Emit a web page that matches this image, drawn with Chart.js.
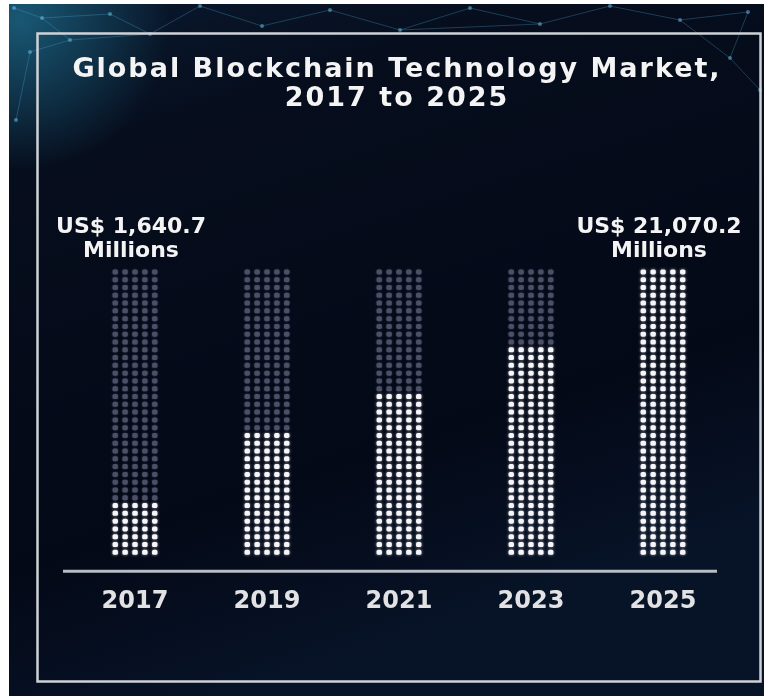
<!DOCTYPE html>
<html>
<head>
<meta charset="utf-8">
<title>Global Blockchain Technology Market</title>
<script src="https://cdn.jsdelivr.net/npm/chart.js@4.4.1/dist/chart.umd.min.js"></script>
<style>
  html, body { margin: 0; padding: 0; background: #fff; }
  #chart { display: block; }
</style>
</head>
<body>
<canvas id="chart" width="764" height="696"></canvas>
<script>
// Global blockchain technology market size, US$ millions
const years = ['2017', '2019', '2021', '2023', '2025'];
const marketSize = [1640.7, 3500, 5400, 9000, 21070.2];
const calloutYears = ['2017', '2025'];
const titleLines = ['Global Blockchain Technology Market,', '2017 to 2025'];

const DOT_ROWS = 37;
const DOT_COLS = 5;
const DOT_W = 5.4;
const DOT_H = 5;

const fmtMillions = v => 'US$ ' + v.toLocaleString('en-US', { minimumFractionDigits: 1, maximumFractionDigits: 1 });

// faint network pattern along the top of the backdrop
const netNodes = [[14, 8], [42, 18], [70, 40], [30, 52], [110, 14], [150, 34], [200, 6], [262, 26],
  [330, 10], [400, 30], [470, 8], [540, 24], [610, 6], [680, 20], [748, 12], [730, 58], [760, 90], [16, 120]];
const netEdges = [[0, 1], [1, 2], [2, 3], [1, 4], [4, 5], [5, 6], [6, 7], [7, 8], [8, 9], [9, 10],
  [10, 11], [11, 12], [12, 13], [13, 14], [14, 15], [15, 16], [3, 17], [2, 5], [9, 11], [13, 15]];

const backdrop = {
  id: 'backdrop',
  beforeDraw(chart) {
    const { ctx, width: w, height: h } = chart;
    ctx.save();
    ctx.fillStyle = '#ffffff';
    ctx.fillRect(0, 0, w, h);

    const bg = ctx.createLinearGradient(0, 0, w * 0.3, h);
    bg.addColorStop(0, '#0a1a30');
    bg.addColorStop(0.25, '#060d1c');
    bg.addColorStop(0.75, '#040917');
    bg.addColorStop(1, '#071327');
    ctx.fillStyle = bg;
    ctx.fillRect(9, 4, w - 9, h - 4);

    const glow = ctx.createRadialGradient(20, 20, 0, 20, 20, 150);
    glow.addColorStop(0, 'rgba(40,150,185,0.5)');
    glow.addColorStop(1, 'rgba(40,150,185,0)');
    ctx.fillStyle = glow;
    ctx.fillRect(9, 4, 200, 180);

    ctx.strokeStyle = 'rgba(80,170,220,0.3)';
    ctx.lineWidth = 1;
    netEdges.forEach(([a, b]) => {
      ctx.beginPath();
      ctx.moveTo(netNodes[a][0], netNodes[a][1]);
      ctx.lineTo(netNodes[b][0], netNodes[b][1]);
      ctx.stroke();
    });
    ctx.fillStyle = 'rgba(110,200,240,0.5)';
    netNodes.forEach(([x, y]) => {
      ctx.beginPath();
      ctx.arc(x, y, 2, 0, Math.PI * 2);
      ctx.fill();
    });

    // frame
    ctx.strokeStyle = '#cfd2d8';
    ctx.lineWidth = 2.5;
    ctx.strokeRect(37.5, 33.5, 723, 648);

    // title
    ctx.fillStyle = '#f4f4f4';
    ctx.font = 'bold 27px "DejaVu Sans"';
    ctx.textAlign = 'center';
    ctx.textBaseline = 'alphabetic';
    ctx.letterSpacing = '2px';
    ctx.fillText(titleLines[0], 397, 77);
    ctx.fillText(titleLines[1], 397, 106);
    ctx.restore();
  }
};

const dotBars = {
  id: 'dotBars',
  afterDatasetsDraw(chart) {
    const { ctx, chartArea } = chart;
    const yScale = chart.scales.y;
    const base = yScale.getPixelForValue(yScale.min);
    const top = yScale.getPixelForValue(yScale.max);
    const step = (base - top) / DOT_ROWS;
    ctx.save();
    chart.getDatasetMeta(0).data.forEach((bar) => {
      const colStep = (bar.width - DOT_W) / (DOT_COLS - 1);
      const lit = Math.round((base - bar.y) / step);
      for (let r = 0; r < DOT_ROWS; r++) {
        const cy = base - (r + 0.5) * step;
        const on = r < lit;
        ctx.fillStyle = on ? '#f6f6fa' : '#4c4f66';
        ctx.shadowColor = on ? 'rgba(255,255,255,0.6)' : 'rgba(90,94,120,0.6)';
        ctx.shadowBlur = on ? 3 : 2;
        for (let c = 0; c < DOT_COLS; c++) {
          const cx = bar.x - bar.width / 2 + DOT_W / 2 + c * colStep;
          ctx.beginPath();
          ctx.roundRect(cx - DOT_W / 2, cy - DOT_H / 2, DOT_W, DOT_H, 1.6);
          ctx.fill();
        }
      }
    });
    ctx.shadowBlur = 0;
    ctx.shadowColor = 'rgba(0,0,0,0)';

    // baseline under the bars
    ctx.strokeStyle = '#b9bdc5';
    ctx.lineWidth = 3;
    ctx.beginPath();
    ctx.moveTo(chartArea.left - 6, base + 15);
    ctx.lineTo(chartArea.right - 12, base + 15);
    ctx.stroke();

    // value callouts above the first and last bar
    ctx.fillStyle = '#f4f4f4';
    ctx.font = 'bold 22px "DejaVu Sans"';
    ctx.textAlign = 'center';
    calloutYears.forEach((yr) => {
      const i = years.indexOf(yr);
      const bar = chart.getDatasetMeta(0).data[i];
      ctx.fillText(fmtMillions(marketSize[i]), bar.x - 4, top - 35);
      ctx.fillText('Millions', bar.x - 4, top - 11);
    });
    ctx.restore();
  }
};

new Chart(document.getElementById('chart'), {
  type: 'bar',
  data: {
    labels: years,
    datasets: [{
      label: 'Market size (US$ millions)',
      data: marketSize,
      backgroundColor: 'rgba(0,0,0,0)',
      borderWidth: 0,
      categoryPercentage: 1,
      barPercentage: 0.34
    }]
  },
  options: {
    responsive: false,
    animation: false,
    devicePixelRatio: 1,
    events: [],
    layout: { padding: { left: 69, right: 35, top: 268, bottom: 49 } },
    plugins: {
      legend: { display: false },
      tooltip: { enabled: false },
      title: { display: false }
    },
    scales: {
      x: {
        grid: { display: false, drawTicks: false },
        border: { display: false },
        ticks: {
          color: '#e2e2e4',
          padding: 31,
          font: { family: '"DejaVu Sans"', size: 24, weight: 'bold' }
        }
      },
      y: {
        type: 'logarithmic',
        min: 900,
        max: 21070.2,
        display: false
      }
    }
  },
  plugins: [backdrop, dotBars]
});
</script>
</body>
</html>
